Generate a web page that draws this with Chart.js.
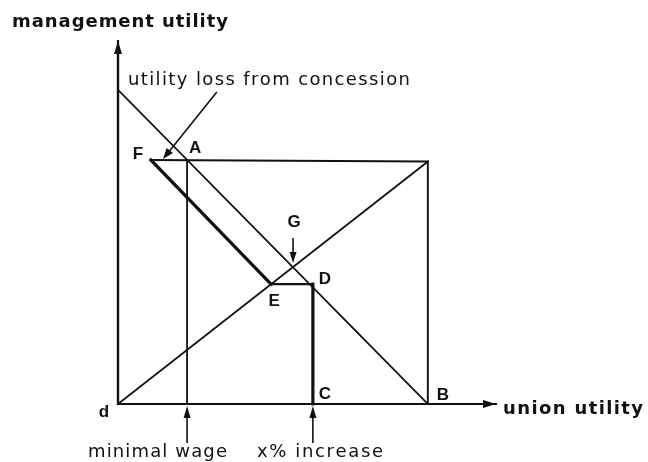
<!DOCTYPE html>
<html>
<head>
<meta charset="utf-8">
<script src="https://cdn.jsdelivr.net/npm/chart.js@4.4.1/dist/chart.umd.min.js"></script>
<style>
  html, body { margin: 0; padding: 0; background: #fff; }
  #wrap { width: 648px; height: 462px; }
</style>
</head>
<body>
<div id="wrap"><canvas id="chart" width="648" height="462"></canvas></div>
<script>
// Bargaining diagram (utility units)
const yAxisLine = [[0, 0], [0, 11.9]];
const xAxisLine = [[0, 0], [12.2, 0]];
const contractLine = [[0, 10.3], [10, 0]];          // through A, G, D, B
const diagonalLine = [[0, 0], [10, 7.95]];          // d -> top right, through E, G
const boxLine = [[1.06, 8], [10, 7.95], [10, 0]];   // F ... top right ... B
const concessionLine = [[1.06, 8], [4.94, 3.93]];   // F -> E
const stepED = [[4.94, 3.93], [6.29, 3.93]];        // E -> D
const stepDC = [[6.29, 3.93], [6.29, 0]];           // D -> C
const minimalWageLine = [[2.23, 8], [2.23, 0]];     // A -> axis

const pointNames = ['F', 'A', 'G', 'D', 'E', 'C', 'B', 'd'];
const pointCoords = [[1.06, 8], [2.23, 8], [5.65, 4.52], [6.29, 3.93], [4.94, 3.93], [6.29, 0], [10, 0], [0, 0]];

const yAxisTitle = 'management utility';
const xAxisTitle = 'union utility';
const noteText = 'utility loss from concession';
const tickNotes = ['minimal wage', 'x% increase'];
const tickNoteX = [2.23, 6.29];

const INK = '#111';
const pts = arr => arr.map(p => ({ x: p[0], y: p[1] }));

function lineSet(arr, w) {
    return { data: pts(arr), showLine: true, borderColor: INK, borderWidth: w, pointRadius: 0, clip: false, borderCapStyle: 'square' };
}

// draws text with extra tracking so it spans a given width
function spacedText(ctx, text, x, y, font, width) {
    ctx.font = font;
    let natural = 0;
    for (const ch of text) natural += ctx.measureText(ch).width;
    const gap = text.length > 1 ? (width - natural) / (text.length - 1) : 0;
    let cx = x;
    for (const ch of text) {
        ctx.fillText(ch, cx, y);
        cx += ctx.measureText(ch).width + gap;
    }
}

function arrow(ctx, x1, y1, x2, y2, w, len, half) {
    ctx.lineWidth = w;
    const a = Math.atan2(y2 - y1, x2 - x1);
    ctx.beginPath();
    ctx.moveTo(x1, y1);
    ctx.lineTo(x2 - Math.cos(a) * len * 0.6, y2 - Math.sin(a) * len * 0.6);
    ctx.stroke();
    ctx.beginPath();
    ctx.moveTo(x2, y2);
    ctx.lineTo(x2 - Math.cos(a) * len - Math.sin(a) * half, y2 - Math.sin(a) * len + Math.cos(a) * half);
    ctx.lineTo(x2 - Math.cos(a) * len + Math.sin(a) * half, y2 - Math.sin(a) * len - Math.cos(a) * half);
    ctx.closePath();
    ctx.fill();
}

const labelOffsets = { F: [-13, -6], A: [8, -12], G: [1, -44], D: [12, -5], E: [3, 17], C: [12, -10], B: [15, -9], d: [-14, 8] };
const BOLD = 'bold 18px "DejaVu Sans", sans-serif';
const PLAIN = '18px "DejaVu Sans", sans-serif';

const annotate = {
    id: 'annotate',
    afterDatasetsDraw(chart) {
        const ctx = chart.ctx;
        const xs = chart.scales.x, ys = chart.scales.y;
        const px = v => xs.getPixelForValue(v);
        const py = v => ys.getPixelForValue(v);
        ctx.save();
        ctx.fillStyle = INK;
        ctx.strokeStyle = INK;

        // axis arrowheads
        arrow(ctx, px(0), py(0), px(yAxisLine[1][0]), py(yAxisLine[1][1]), 2.2, 13, 4);
        arrow(ctx, px(0), py(0), px(xAxisLine[1][0]), py(xAxisLine[1][1]), 2.2, 13, 4);

        // note arrow to the F-A gap
        arrow(ctx, px(3.19), py(10.23), px(1.45), py(8.03), 1.6, 11, 4);
        // G arrow
        arrow(ctx, px(5.65), py(5.44), px(5.65), py(4.62), 1.6, 11, 3.5);
        // arrows up to the union axis
        tickNoteX.forEach(v => arrow(ctx, px(v), py(0) + 39, px(v), py(0) + 2, 1.6, 12, 3.5));

        // point letters
        ctx.font = 'bold 17px "Liberation Sans", Arial, sans-serif';
        ctx.textAlign = 'center';
        ctx.textBaseline = 'middle';
        pointNames.forEach((n, i) => {
            const o = labelOffsets[n];
            ctx.fillText(n, px(pointCoords[i][0]) + o[0], py(pointCoords[i][1]) + o[1]);
        });

        // texts
        ctx.textAlign = 'left';
        ctx.textBaseline = 'alphabetic';
        spacedText(ctx, yAxisTitle, 12, 27, BOLD, 216);
        spacedText(ctx, xAxisTitle, 503, 414, BOLD, 140);
        spacedText(ctx, noteText, 128, 85, PLAIN, 282);
        spacedText(ctx, tickNotes[0], 88, 457, PLAIN, 139);
        spacedText(ctx, tickNotes[1], 257, 457, PLAIN, 126);
        ctx.restore();
    }
};

new Chart(document.getElementById('chart'), {
    type: 'scatter',
    data: {
        datasets: [
            lineSet(yAxisLine, 2.2),
            lineSet(xAxisLine, 2.2),
            lineSet(contractLine, 1.8),
            lineSet(diagonalLine, 1.8),
            lineSet(boxLine, 1.9),
            lineSet(concessionLine, 3.2),
            lineSet(stepED, 2.2),
            lineSet(stepDC, 3.2),
            lineSet(minimalWageLine, 1.8)
        ]
    },
    options: {
        responsive: false,
        animation: false,
        layout: { padding: { left: 118, right: 152, top: 41, bottom: 58 } },
        plugins: { legend: { display: false }, tooltip: { enabled: false } },
        scales: {
            x: { type: 'linear', min: 0, max: 12.2, display: false },
            y: { type: 'linear', min: 0, max: 11.9, display: false }
        }
    },
    plugins: [annotate]
});
</script>
</body>
</html>
